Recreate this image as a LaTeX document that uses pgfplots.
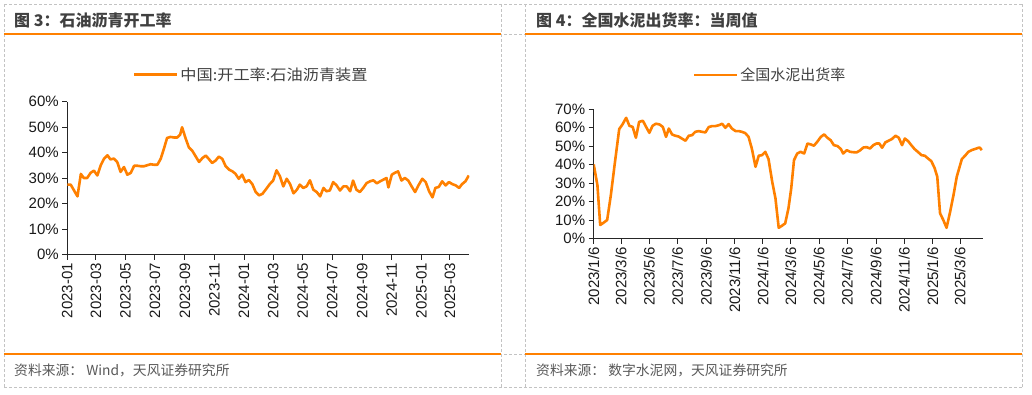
\documentclass[border=0pt]{standalone}
\usepackage{fontspec}
\setmainfont{Liberation Sans}
\newfontfamily\cjk{Noto Sans CJK SC}
\usepackage{graphicx}
\usepackage{pgfplots}
\pgfplotsset{compat=1.18}
\definecolor{ora}{RGB}{255,128,0}
\definecolor{dgray}{RGB}{64,64,64}
\definecolor{bgray}{RGB}{195,195,195}
\definecolor{fgray}{RGB}{89,89,89}
\pgfplotsset{
 mystyle/.style={
  scale only axis,
  axis x line=bottom, axis y line=left,
  axis line style={-, draw=black!85, line width=1.1pt},
  tick align=outside,
  major tick length=5pt,
  tick style={draw=black!85, line width=1pt},
  /pgf/number format/assume math mode=true,
  x tick label style={rotate=90, anchor=east, font=\fontsize{15}{15}\selectfont, text=black!90},
  y tick label style={font=\fontsize{15}{15}\selectfont, text=black!90},
  yticklabel={\pgfmathprintnumber{\tick}\%},
  legend style={draw=none, fill=none, anchor=west, font=\cjk\fontsize{15}{18}\selectfont, inner sep=0pt, outer sep=0pt, text=dgray},
  legend image code/.code={\draw[#1, line width=2.6pt] (0pt,0pt) -- (43pt,0pt);},
  no markers,
 }
}
\begin{document}
\begin{tikzpicture}
\path[use as bounding box] (0pt,0pt) rectangle (1032pt,394pt);
% dashed table grid
\begin{scope}[draw=bgray, line width=0.9pt, dash pattern=on 3pt off 2pt]
\foreach \yy in {390,360,40,7} {\draw (4pt,\yy pt) -- (1022pt,\yy pt);}
\foreach \xx in {4,501,525,1022} {\draw (\xx pt,7pt) -- (\xx pt,390pt);}
\end{scope}
\begin{scope}[draw=ora, line width=2pt]
\draw (4pt,359.7pt) -- (501pt,359.7pt);
\draw (525pt,359.7pt) -- (1022pt,359.7pt);
\draw (4pt,40.3pt) -- (501pt,40.3pt);
\draw (525pt,40.3pt) -- (1022pt,40.3pt);
\end{scope}
% titles
\node[anchor=west, inner sep=0pt, text=dgray] at (14pt,374pt) {\cjk\bfseries\fontsize{16}{19}\selectfont 图 3：石油沥青开工率};
\node[anchor=west, inner sep=0pt, text=dgray] at (536pt,374pt) {\cjk\bfseries\fontsize{16}{19}\selectfont 图 4：全国水泥出货率：当周值};
% footers
\node[anchor=west, inner sep=0pt, text=fgray] at (14pt,24pt) {\cjk\fontsize{13.8}{16}\selectfont 资料来源： Wind，天风证券研究所};
\node[anchor=west, inner sep=0pt, text=fgray] at (536pt,24pt) {\cjk\fontsize{13.8}{16}\selectfont 资料来源： 数字水泥网，天风证券研究所};

% left chart
\begin{axis}[mystyle,
  at={(67.3pt,139.5pt)}, anchor=south west,
  width=402pt, height=153pt,
  xmin=0, xmax=830, ymin=0, ymax=60,
  ytick={0,10,20,30,40,50,60},
  xtick={0,59,120,181,243,304,365,425,486,547,609,670,731,790},
  xticklabels={2023-01,2023-03,2023-05,2023-07,2023-09,2023-11,2024-01,2024-03,2024-05,2024-07,2024-09,2024-11,2025-01,2025-03},
  legend style={at={(0.163,1.175)}},
]
\addplot[ora, line width=2.6pt, line join=round] coordinates {
(0,27.4)(7,27.4)(21,22.8)(28,31.6)(34,30.0)(41,30.0)(48,32.0)(55,32.9)(62,31.0)(69,35.0)
(76,37.6)(83,38.9)(89,37.3)(96,37.6)(103,36.3)(110,32.4)(117,34.3)(124,31.3)(131,32.0)(138,34.8)
(145,34.8)(152,34.6)(158,34.6)(165,35.0)(172,35.4)(179,35.2)(186,35.2)(193,37.6)(200,41.8)(206,45.7)
(213,46.1)(220,45.9)(227,45.9)(233,47.0)(237,49.9)(244,45.7)(251,42.0)(258,40.7)(265,38.5)(272,36.3)
(279,37.8)(286,38.8)(292,37.5)(299,35.9)(306,36.8)(313,38.4)(320,37.5)(327,34.6)(334,33.3)(341,32.6)
(347,31.7)(354,29.7)(361,31.3)(368,28.4)(375,29.2)(382,27.6)(389,24.5)(396,23.2)(403,23.8)(411,25.8)
(418,27.6)(425,29.0)(432,33.0)(439,30.7)(446,26.7)(453,29.7)(460,27.6)(467,24.0)(474,25.4)(480,27.4)
(487,26.1)(494,26.7)(501,29.1)(508,25.4)(515,24.5)(522,22.8)(529,26.1)(535,24.8)(542,25.1)(549,28.4)
(556,27.1)(563,25.1)(570,26.7)(577,26.7)(584,24.8)(590,29.0)(597,25.4)(604,24.5)(611,26.1)(618,28.0)
(625,28.7)(632,29.1)(639,27.9)(646,28.7)(652,29.3)(659,30.0)(663,26.3)(670,31.3)(676,32.0)(683,32.6)
(690,29.0)(697,30.0)(704,29.0)(711,26.7)(718,24.5)(725,27.1)(733,29.7)(740,28.4)(747,24.8)(754,22.4)
(760,26.1)(767,26.5)(774,28.7)(781,27.1)(788,28.4)(795,27.6)(802,27.1)(809,26.1)(815,27.6)(822,28.7)
(829,31.0)
};
\addlegendentry{\scalebox{1.08}[1]{中国:开工率:石油沥青装置}}
\end{axis}

% right chart
\begin{axis}[mystyle,
  at={(593.7pt,155.3pt)}, anchor=south west,
  width=389pt, height=129.4pt,
  xmin=0, xmax=839, ymin=0, ymax=70,
  ytick={0,10,20,30,40,50,60,70},
  xtick={0,59,120,181,243,304,365,425,486,547,609,670,731,790},
  xticklabels={2023/1/6,2023/3/6,2023/5/6,2023/7/6,2023/9/6,2023/11/6,2024/1/6,2024/3/6,2024/5/6,2024/7/6,2024/9/6,2024/11/6,2025/1/6,2025/3/6},
  legend style={at={(0.2545,1.265)}},
]
\addplot[ora, line width=2.6pt, line join=round] coordinates {
(0,40.2)(8,29.0)(14,7.4)(21,8.6)(29,10.1)(37,23.6)(45,39.8)(55,59.3)(62,61.8)(70,65.4)
(77,61.1)(84,60.5)(91,54.6)(98,63.2)(106,63.8)(113,60.5)(120,57.3)(127,61.1)(134,62.2)(142,61.8)
(149,60.5)(156,55.1)(162,59.6)(169,56.4)(176,55.7)(183,55.3)(190,54.2)(198,53.0)(205,55.7)(212,56.0)
(219,57.8)(226,58.2)(234,57.8)(241,57.5)(248,60.4)(255,60.9)(262,60.9)(270,61.4)(277,62.2)(284,60.0)
(291,62.0)(298,59.6)(306,58.2)(313,58.2)(320,57.8)(327,57.1)(334,55.1)(341,48.8)(349,38.9)(356,44.9)
(363,45.2)(370,47.0)(377,43.1)(385,30.8)(392,21.8)(399,5.9)(406,7.0)(413,8.3)(420,16.4)(426,27.2)
(432,42.5)(439,46.1)(446,47.0)(454,46.1)(461,51.5)(468,51.0)(475,50.3)(482,52.4)(490,55.1)(497,56.4)
(504,54.6)(511,53.3)(518,50.6)(526,50.1)(533,48.5)(538,46.1)(546,47.9)(553,47.0)(560,46.8)(567,46.7)
(574,47.7)(582,49.4)(589,49.5)(596,48.8)(603,50.6)(610,51.5)(616,51.5)(622,49.2)(629,52.1)(636,53.0)
(643,53.9)(651,55.7)(658,54.6)(665,50.6)(671,54.2)(678,52.8)(685,50.6)(692,48.5)(699,47.0)(707,45.2)
(714,44.9)(721,43.4)(728,42.0)(735,38.4)(741,33.5)(747,13.7)(754,10.1)(761,5.9)(768,13.7)(776,23.6)
(783,33.5)(794,43.1)(801,44.9)(808,47.0)(815,47.9)(822,48.5)(830,49.2)(833,49.2)(837,47.9)
};
\addlegendentry{\scalebox{1.0}[1]{全国水泥出货率}}
\end{axis}
\end{tikzpicture}
\end{document}
